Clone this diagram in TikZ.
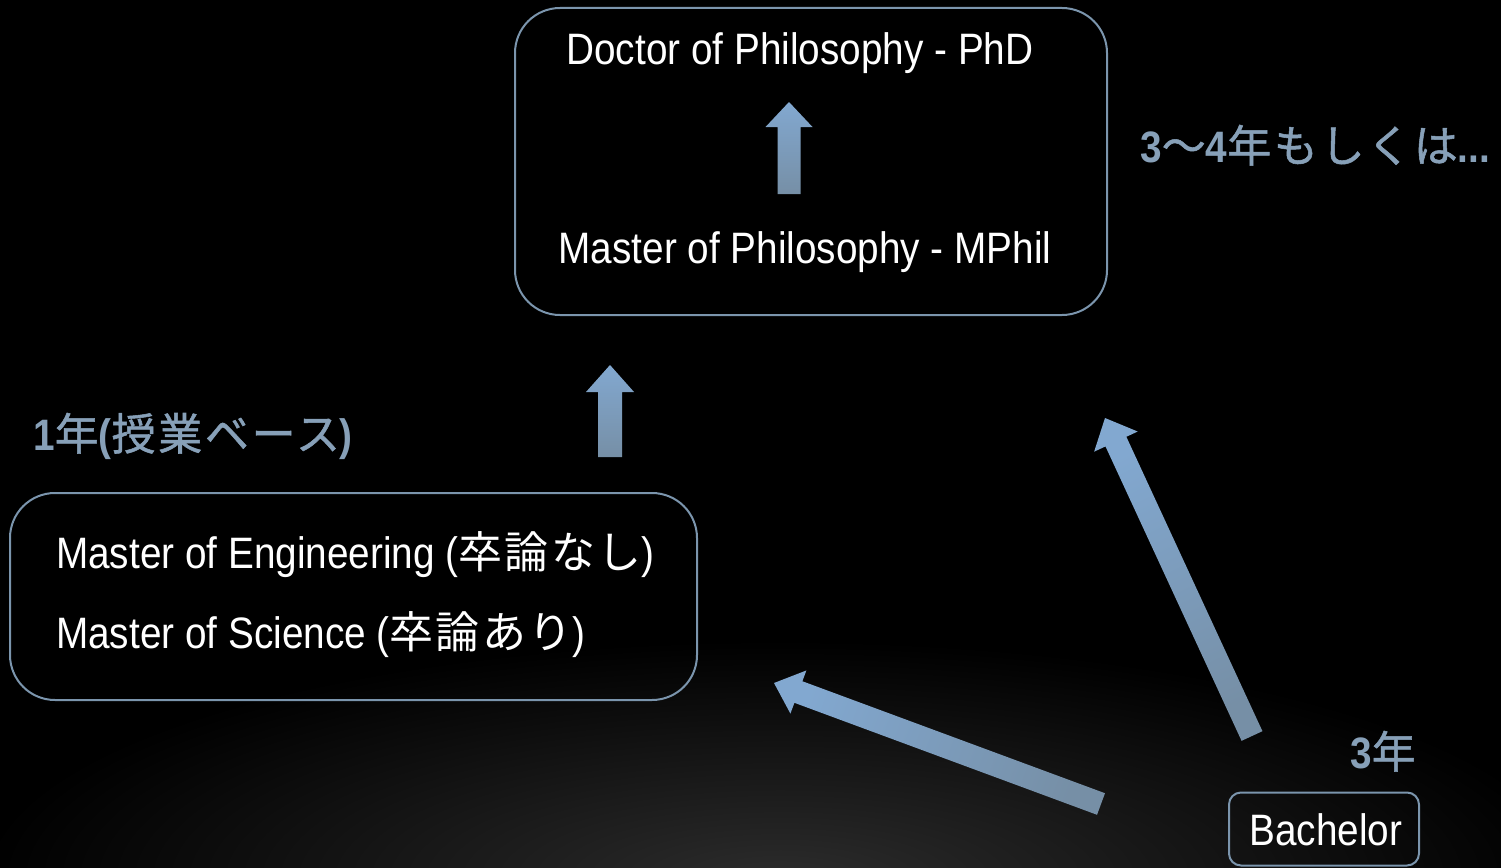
\documentclass[tikz,border=0pt]{standalone}
\usepackage{fontspec}
\setmainfont{Liberation Sans}[FakeStretch=0.88]
\newfontfamily\cjk{Noto Sans CJK JP}[LetterSpace=5]
\newfontfamily\cjkl{Noto Sans CJK JP}[LetterSpace=6,FakeBold=1.2]
\usetikzlibrary{calc}
\definecolor{boxline}{HTML}{7B95AD}
\definecolor{lbl}{HTML}{87A0B8}
\definecolor{arrtop}{HTML}{82A8D0}
\definecolor{arrbot}{HTML}{768FA6}
\definecolor{glow}{HTML}{2C2C2C}
% tail, tip, shaft half width, head half width, head length, shading angle
\newcommand\blockarr[6]{%
  \coordinate (ba) at ($(#2)!#5!(#1)$);
  \shade[top color=arrtop, bottom color=arrbot, shading angle=#6]
    ($(#1)!#3!90:(#2)$) -- ($(ba)!#3!90:(#2)$) -- ($(ba)!#4!90:(#2)$) -- (#2)
    -- ($(ba)!#4!-90:(#2)$) -- ($(ba)!#3!-90:(#2)$) -- ($(#1)!#3!-90:(#2)$) -- cycle;}
\newcommand\jp[1]{{\cjk\mdseries #1}}
\newcommand\jl[1]{{\cjkl\mdseries #1}}
\begin{document}
\begin{tikzpicture}[x=1pt,y=-1pt,
  box/.style={draw=boxline, line width=2pt, rounded corners=#1, inner sep=0pt},
  box/.default=45pt,
  wtext/.style={text=white, font=\fontsize{44}{48}\selectfont, inner sep=0pt},
  ltext/.style={text=lbl, font=\fontsize{44}{48}\selectfont\bfseries, inner sep=0pt}]
\useasboundingbox (0,0) rectangle (1501,867);
\fill[black] (0,0) rectangle (1501,867);
\begin{scope}
  \clip (0,0) rectangle (1501,867);
  \shade[inner color=glow, outer color=black] (780,880) ellipse [x radius=800, y radius=240];
\end{scope}

% boxes
\node[box, minimum width=592pt, minimum height=307pt] (top) at (811,161.5) {};
\node[box, minimum width=687pt, minimum height=207pt] (mid) at (353.5,596.5) {};
\node[box=12pt, minimum width=190pt, minimum height=73pt] (bach) at (1324,829) {};

% texts
\node[wtext, anchor=base] (phd) at (800,65) {Doctor of Philosophy - PhD};
\node[wtext, anchor=base] (mphil) at (805,263) {Master of Philosophy - MPhil};
\node[wtext, anchor=base west] (meng) at (56,568) {Master of Engineering (\jp{卒論なし})};
\node[wtext, anchor=base west] (msc) at (56,648) {Master of Science (\jp{卒論あり})};
\node[wtext, anchor=base] (bachtxt) at (1326,845) {Bachelor};
\node[ltext, anchor=base west] (l1) at (33,450) {1\jl{年}(\jl{授業ベース})};
\node[ltext, anchor=base west] (l34) at (1140,162) {3\jl{〜}4\jl{年もしくは}...};
\node[ltext, anchor=base west] (l3) at (1350,768) {3\jl{年}};

% arrows
\coordinate (a1t) at (789,194); \coordinate (a1h) at (789,102);
\coordinate (a2t) at (610,457); \coordinate (a2h) at (610,365);
\coordinate (a3t) at (1101,804); \coordinate (a3h) at (774,683);
\coordinate (a4t) at (1252,736); \coordinate (a4h) at (1105,418);
\blockarr{a1t}{a1h}{11.5pt}{23.5pt}{25pt}{0}
\blockarr{a2t}{a2h}{12pt}{24pt}{27pt}{0}
\blockarr{a3t}{a3h}{11.5pt}{23pt}{26pt}{69.7}
\blockarr{a4t}{a4h}{11.5pt}{24pt}{26pt}{24.8}
\end{tikzpicture}
\end{document}
